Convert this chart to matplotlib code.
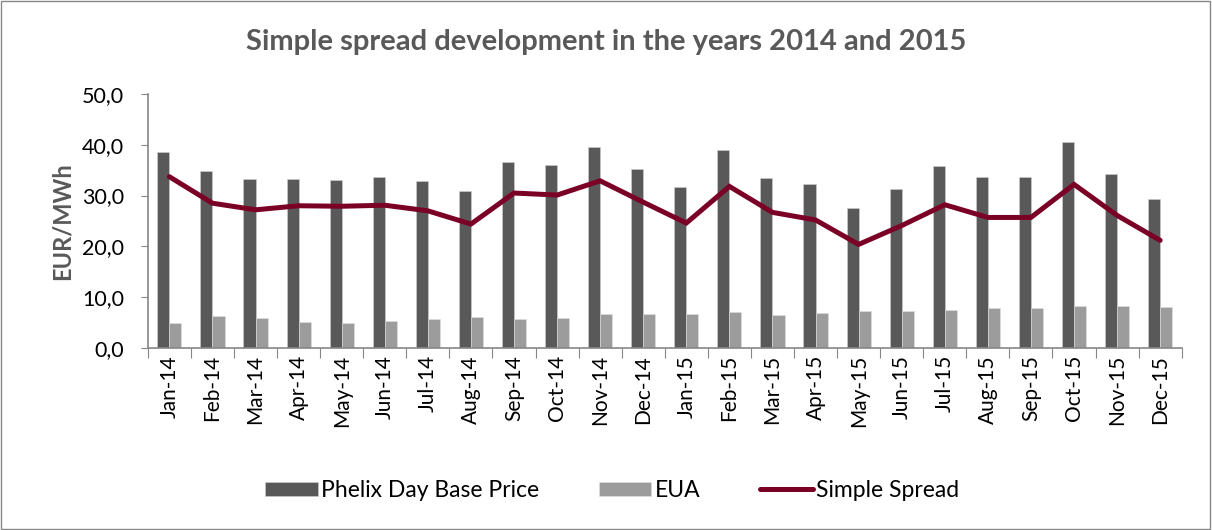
"""Simple spread development 2014-2015: Phelix base price, EUA and spread."""

import matplotlib

matplotlib.use("Agg")
import matplotlib.pyplot as plt
import numpy as np
from matplotlib.patches import Rectangle
from matplotlib.ticker import FixedLocator, FuncFormatter

plt.rcParams["font.family"] = ["Lato", "DejaVu Sans"]

months = [
    "Jan-14", "Feb-14", "Mar-14", "Apr-14", "May-14", "Jun-14",
    "Jul-14", "Aug-14", "Sep-14", "Oct-14", "Nov-14", "Dec-14",
    "Jan-15", "Feb-15", "Mar-15", "Apr-15", "May-15", "Jun-15",
    "Jul-15", "Aug-15", "Sep-15", "Oct-15", "Nov-15", "Dec-15",
]
phelix = [
    38.5, 34.9, 33.3, 33.2, 33.0, 33.7, 32.8, 30.8, 36.6, 36.1, 39.6, 35.2,
    31.7, 39.0, 33.4, 32.2, 27.6, 31.3, 35.8, 33.6, 33.7, 40.5, 34.2, 29.4,
]
eua = [
    4.9, 6.4, 6.0, 5.1, 4.9, 5.4, 5.8, 6.1, 5.8, 6.0, 6.7, 6.7,
    6.8, 7.1, 6.6, 7.0, 7.3, 7.3, 7.5, 7.9, 7.9, 8.2, 8.3, 8.1,
]
spread = [
    33.7, 28.5, 27.2, 28.0, 27.9, 28.1, 27.0, 24.4, 30.5, 30.1, 32.9, 28.7,
    24.6, 31.8, 26.7, 25.2, 20.4, 24.1, 28.2, 25.7, 25.7, 32.2, 26.1, 21.2,
]

DARK = "#595959"
LIGHT = "#9c9c9c"
WINE = "#7b0026"
AXIS = "#868686"

fig = plt.figure(figsize=(12.12, 5.30), dpi=100)
fig.patches.append(
    Rectangle((0.001, 0.002), 0.997, 0.996, transform=fig.transFigure,
              fill=False, edgecolor="#888888", linewidth=1.0)
)
ax = fig.add_axes([0.122, 0.343, 0.853, 0.48])

x = np.arange(len(months))
w = 0.28
b1 = ax.bar(x - w / 2, phelix, width=w, color=DARK, edgecolor="#d0d0d0",
            linewidth=0.4, label="Phelix Day Base Price", zorder=2)
b2 = ax.bar(x + w / 2, eua, width=w, color=LIGHT, edgecolor="#e0e0e0",
            linewidth=0.4, label="EUA", zorder=2)
(ln,) = ax.plot(x, spread, color=WINE, linewidth=3.6, solid_capstyle="round",
                solid_joinstyle="miter", label="Simple Spread", zorder=3)

ax.set_xlim(-0.5, len(months) - 0.5)
ax.set_ylim(0, 50)
ax.set_yticks(np.arange(0, 51, 10))
ax.yaxis.set_major_formatter(FuncFormatter(lambda v, _: f"{v:.1f}".replace(".", ",")))
ax.tick_params(axis="y", labelsize=15.5, length=5, color=AXIS, pad=12)

ax.xaxis.set_major_locator(FixedLocator(np.arange(-0.5, len(months), 1.0)))
ax.xaxis.set_minor_locator(FixedLocator(x))
ax.set_xticklabels([])
ax.set_xticklabels(months, minor=True, rotation=90, fontsize=15)
ax.tick_params(axis="x", which="major", length=7, color=AXIS)
ax.tick_params(axis="x", which="minor", length=0, pad=5)

for side in ("top", "right"):
    ax.spines[side].set_visible(False)
for side in ("left", "bottom"):
    ax.spines[side].set_color(AXIS)
    ax.spines[side].set_linewidth(1.2)

ax.set_ylabel("EUR/MWh", fontsize=17, fontweight="bold", color=DARK, labelpad=6)
fig.suptitle("Simple spread development in the years 2014 and 2015",
             fontsize=21, fontweight="bold", color=DARK, y=0.945)

fig.legend(handles=[b1, b2, ln], loc="center", bbox_to_anchor=(0.505, 0.075),
           ncol=3, frameon=False, fontsize=16.5, handlelength=2.3,
           handleheight=0.55, columnspacing=2.6, handletextpad=0.15)

fig.savefig("out.png", dpi=100)
